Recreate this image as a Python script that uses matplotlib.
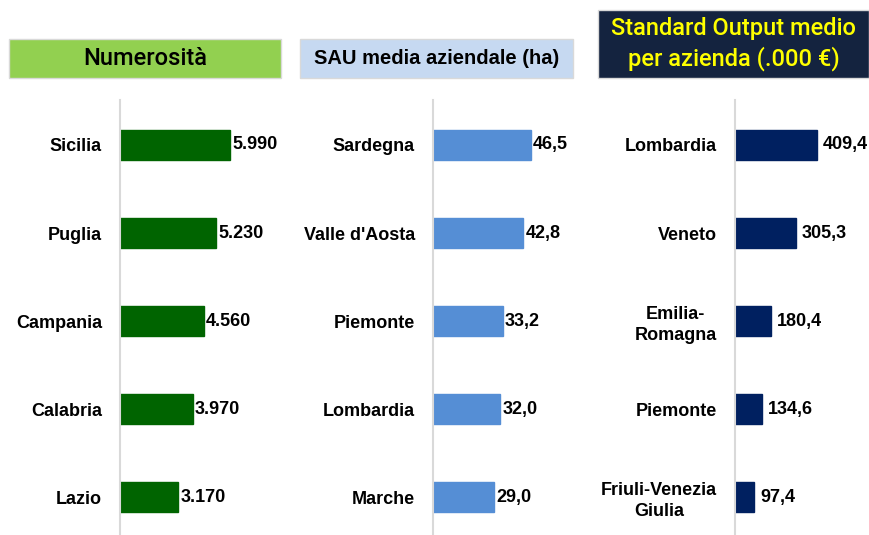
import matplotlib.pyplot as plt
from matplotlib.patches import Rectangle

plt.rcParams['font.family'] = ['Liberation Sans', 'DejaVu Sans']

# data
regioni_num = ['Sicilia', 'Puglia', 'Campania', 'Calabria', 'Lazio']
numerosita = [5990, 5230, 4560, 3970, 3170]

regioni_sau = ['Sardegna', "Valle d'Aosta", 'Piemonte', 'Lombardia', 'Marche']
sau_media = [46.5, 42.8, 33.2, 32.0, 29.0]

regioni_so = ['Lombardia', 'Veneto', 'Emilia-\nRomagna', 'Piemonte', 'Friuli-Venezia\nGiulia']
so_medio = [409.4, 305.3, 180.4, 134.6, 97.4]

W, H = 869, 535
fig = plt.figure(figsize=(W / 100, H / 100), dpi=100)


def fmt_int(v):
    return f'{v:,.0f}'.replace(',', '.')


def fmt_dec(v):
    return f'{v:.1f}'.replace('.', ',')


def panel(left_px, width_px, labels, values, xmax, color, fmt, gap):
    ax = fig.add_axes([left_px / W, 0, width_px / W, 435 / H])
    y = list(range(len(labels)))
    ax.barh(y, values, height=0.34, color=color, edgecolor=color)
    ax.set_ylim(4.43, -0.511)
    ax.set_xlim(0, xmax)
    ax.set_yticks(y)
    ax.set_yticklabels(labels, fontsize=13, fontweight='bold',
                       linespacing=1.3, multialignment='center')
    ax.tick_params(axis='y', length=0, pad=13)
    ax.set_xticks([])
    for s in ['top', 'right', 'bottom']:
        ax.spines[s].set_visible(False)
    ax.spines['left'].set_color('#D9D9D9')
    ax.spines['left'].set_linewidth(1.5)
    ax.patch.set_alpha(0)
    for yi, v in zip(y, values):
        ax.annotate(fmt(v), (v, yi), xytext=(gap, 0), textcoords='offset points',
                    va='center', ha='left', fontsize=13, fontweight='bold')
    return ax


# scale: px per unit
panel(120, 160, regioni_num, numerosita, 160 / 0.01836, '#006400', fmt_int, 1.5)
panel(433, 150, regioni_sau, sau_media, 150 / 2.108, '#558ED5', fmt_dec, 1.5)
panel(735, 134, regioni_so, so_medio, 134 / 0.2, '#002060', fmt_dec, 4)


def header(x0, y0, x1, y1, fc, text, tc, size, weight, family):
    fig.patches.append(Rectangle((x0 / W, 1 - y1 / H), (x1 - x0) / W, (y1 - y0) / H,
                                 transform=fig.transFigure, facecolor=fc,
                                 edgecolor='#D9D9D9', linewidth=1))
    fig.text((x0 + x1) / 2 / W, 1 - (y0 + y1) / 2 / H, text, color=tc,
             fontsize=size, fontweight=weight, ha='center', va='center',
             linespacing=1.3, family=family)


header(9, 39, 281, 78, '#92D050', 'Numerosità', 'black', 17, 'medium', ['Roboto', 'DejaVu Sans'])
header(300, 39, 573, 78, '#C6D9F1', 'SAU media aziendale (ha)', 'black', 14.5, 'bold',
       ['Liberation Sans', 'DejaVu Sans'])
header(598, 10, 869, 78, '#14233F', 'Standard Output medio\nper azienda (.000 €)', '#FFFF00',
       17, 'medium', ['Roboto', 'DejaVu Sans'])

fig.savefig('out.png', dpi=100)
